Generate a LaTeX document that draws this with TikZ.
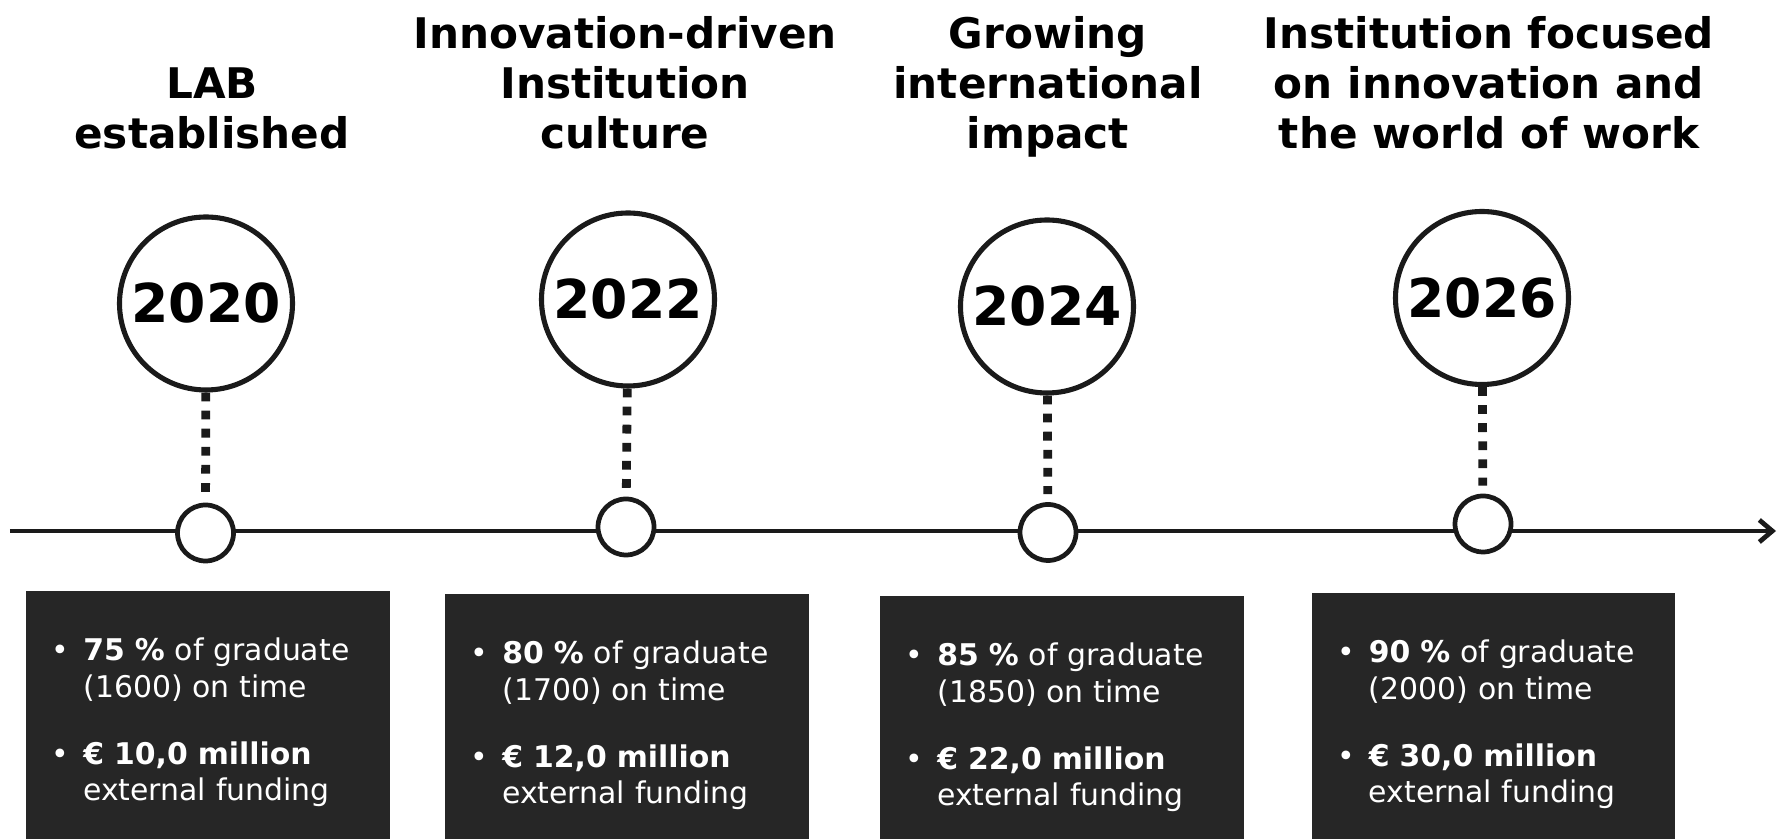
\documentclass[tikz,border=0pt]{standalone}
\usepackage{fontspec}
\setmainfont{DejaVu Sans}
\usetikzlibrary{arrows.meta}

\definecolor{ink}{HTML}{1A1A1A}
\definecolor{boxgrey}{HTML}{262626}

% one bullet point of a fact box
\newcommand{\fact}[1]{\par\hangindent=0.92cm\hangafter=1\noindent\makebox[0.92cm][c]{\textbullet}#1\par}

\begin{document}
\begin{tikzpicture}[
	headline/.style={anchor=north, align=center, inner sep=0pt, font=\fontsize{24}{28.5}\selectfont\bfseries},
	yearball/.style={circle, draw=ink, line width=2.9pt, fill=white, minimum size=3.46cm, inner sep=0pt, font=\fontsize{30.5}{36}\selectfont\bfseries},
	tick/.style={circle, draw=ink, line width=2.7pt, fill=white, minimum size=1.12cm, inner sep=0pt},
	link/.style={draw=ink, line width=5pt, dash pattern=on 5pt off 5.3pt, shorten >=0.16cm},
	timeline/.style={draw=ink, line width=2.7pt},
	facts/.style={anchor=north west, fill=boxgrey, text=white, text width=6.83cm, inner xsep=0.22cm, inner ysep=0pt, minimum height=4.96cm, align=left, font=\fontsize{17}{21}\selectfont}
	]
		\useasboundingbox (0,0) rectangle (35.64,16.78);
		\fill[white] (0,0) rectangle (35.64,16.78);
		
		% the time axis
		\coordinate (a0) at (0.2,6.16);
		\coordinate (a1) at (35.52,6.16);
		\draw[timeline,-{Straight Barb[length=0.26cm,width=0.44cm]}] (a0) -- (a1);
		
		\node[headline] (h20) at (4.24,15.44) {LAB\\established};
		\node[headline] (h22) at (12.50,16.46) {Innovation-driven\\Institution\\culture};
		\node[headline] (h24) at (20.96,16.46) {Growing\\international\\impact};
		\node[headline] (h26) at (29.78,16.46) {Institution focused\\on innovation and\\the world of work};
		
		\node[yearball] (y20) at (4.12,10.71) {2020};
		\node[yearball] (y22) at (12.56,10.79) {2022};
		\node[yearball] (y24) at (20.94,10.65) {2024};
		\node[yearball] (y26) at (29.64,10.82) {2026};
		
		\node[tick] (t20) at (4.11,6.12) {};
		\node[tick] (t22) at (12.52,6.24) {};
		\node[tick] (t24) at (20.96,6.13) {};
		\node[tick] (t26) at (29.66,6.30) {};
		
		\draw[link] (y20) -- (t20);
		\draw[link] (y22) -- (t22);
		\draw[link] (y24) -- (t24);
		\draw[link] (y26) -- (t26);
		
		\node[facts] (f20) at (0.52,4.96) {\fact{\textbf{75~\%} of graduate\newline(1600) on time}\vspace{17pt}\fact{\textbf{€~10,0 million}\newline external funding}};
		\node[facts] (f22) at (8.90,4.90) {\fact{\textbf{80~\%} of graduate\newline(1700) on time}\vspace{17pt}\fact{\textbf{€~12,0 million}\newline external funding}};
		\node[facts] (f24) at (17.60,4.86) {\fact{\textbf{85~\%} of graduate\newline(1850) on time}\vspace{17pt}\fact{\textbf{€~22,0 million}\newline external funding}};
		\node[facts] (f26) at (26.23,4.92) {\fact{\textbf{90~\%} of graduate\newline(2000) on time}\vspace{17pt}\fact{\textbf{€~30,0 million}\newline external funding}};
		
	\end{tikzpicture}
\end{document}
